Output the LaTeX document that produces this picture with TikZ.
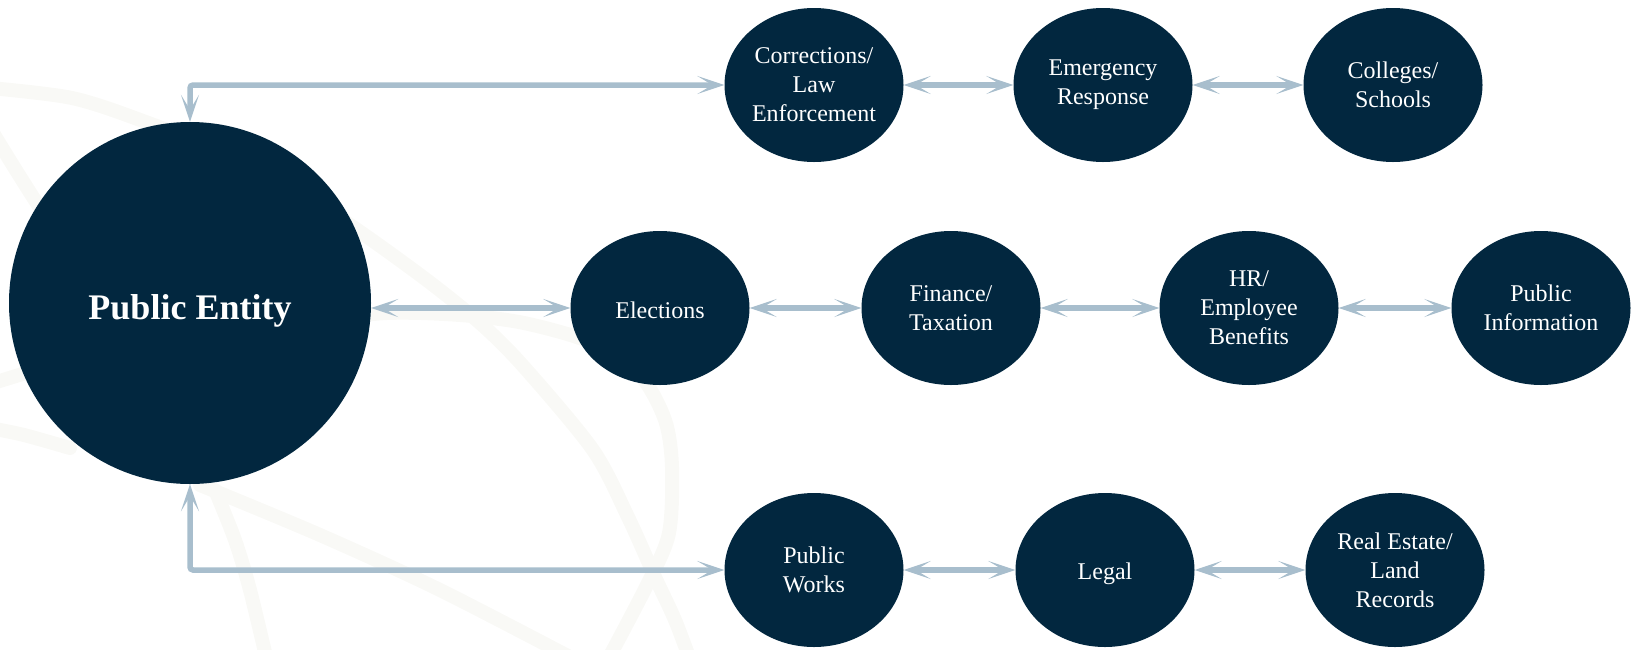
\documentclass[tikz,border=0pt]{standalone}
\usepackage{fontspec}
\setmainfont{Liberation Serif}
\usetikzlibrary{arrows.meta,shapes.geometric}
\definecolor{navy}{RGB}{2,39,63}
\definecolor{linkblue}{RGB}{168,190,205}
\definecolor{faint}{RGB}{249,249,246}
\begin{document}
\begin{tikzpicture}[x=1pt,y=-1pt,
  unit/.style={ellipse, fill=navy, text=white, inner sep=0pt,
    minimum width=179pt, minimum height=154pt, align=center,
    font=\fontsize{24}{29}\selectfont},
  link/.style={draw=linkblue, line width=5.5pt,
    {Stealth[length=27pt,width=18pt,inset=15pt]}-{Stealth[length=27pt,width=18pt,inset=15pt]}},
  band/.style={draw=faint, line width=14pt, line cap=round}]
\useasboundingbox (0,0) rectangle (1631,649);

% faint decorative orbits in the background
\begin{scope}
  \clip (0,0) rectangle (1631,649);
  \draw[band] plot[smooth] coordinates {(-10,88) (72,98) (143,121) (240,160) (335,215) (420,275) (480,323) (524,367) (593,450) (628,517) (655,577) (675,620) (692,665)};
  \draw[band] plot[smooth] coordinates {(300,322) (387,313) (460,315) (524,323) (593,343) (640,375) (665,420) (672,467) (669,533) (648,583) (605,665)};
  \draw[band] plot[smooth] coordinates {(200,485) (320,535) (440,590) (585,665)};
  \draw[band] plot[smooth] coordinates {(215,490) (235,540) (250,590) (268,665)};
  \draw[band] plot[smooth] coordinates {(-10,128) (19,175) (45,215) (80,260)};
  \draw[band] plot[smooth] coordinates {(-10,384) (29,372) (70,360)};
  \draw[band] plot[smooth] coordinates {(-10,428) (24,435) (70,448)};
\end{scope}

% central entity
\node[circle, fill=navy, text=white, inner sep=0pt, minimum size=362pt,
  text height=32pt, text depth=0pt,
  font=\bfseries\fontsize{36}{40}\selectfont] (pe) at (190,303) {Public Entity};

% top row
\node[unit] (cor) at (814,85) {Corrections/\\Law\\Enforcement};
\node[unit] (emg) at (1103,85) {Emergency\\Response};
\node[unit] (col) at (1393,85) {Colleges/\\Schools};

% middle row
\node[unit, text height=20pt, text depth=0pt] (ele) at (660,308) {Elections};
\node[unit] (fin) at (951,308) {Finance/\\Taxation};
\node[unit] (hr)  at (1249,308) {HR/\\Employee\\Benefits};
\node[unit] (pi)  at (1541,308) {Public\\Information};

% bottom row
\node[unit] (pw)  at (814,570) {Public\\Works};
\node[unit, text height=18pt, text depth=0pt] (leg) at (1105,570) {Legal};
\node[unit] (re)  at (1395,570) {Real Estate/\\Land\\Records};

% connectors
\draw[link, rounded corners=3pt] (pe.north) |- (cor.west);
\draw[link, rounded corners=3pt] (pe.south) |- (pw.west);
\draw[link] (pe.east |- ele.west) -- (ele.west);

\draw[link] (cor.east) -- (emg.west);
\draw[link] (emg.east) -- (col.west);
\draw[link] (ele.east) -- (fin.west);
\draw[link] (fin.east) -- (hr.west);
\draw[link] (hr.east) -- (pi.west);
\draw[link] (pw.east) -- (leg.west);
\draw[link] (leg.east) -- (re.west);
\end{tikzpicture}
\end{document}
